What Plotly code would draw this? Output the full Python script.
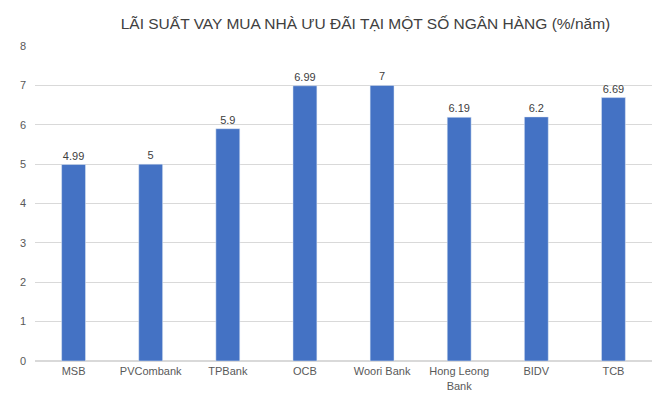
import plotly.graph_objects as go

banks = ["MSB", "PVCombank", "TPBank", "OCB", "Woori Bank", "Hong Leong<br>Bank", "BIDV", "TCB"]
rates = [4.99, 5, 5.9, 6.99, 7, 6.19, 6.2, 6.69]
labels = ["4.99", "5", "5.9", "6.99", "7", "6.19", "6.2", "6.69"]

fig = go.Figure(go.Bar(
    x=banks, y=rates, text=labels, textposition="outside",
    marker_color="#4472C4", textfont=dict(size=11, color="#404040"),
    cliponaxis=False,
))

fig.update_layout(
    width=662, height=408,
    margin=dict(l=24, r=18, t=38, b=55),
    paper_bgcolor="white", plot_bgcolor="white",
    font=dict(family="Liberation Sans, Arial", size=11, color="#595959"),
    title=dict(text="LÃI SUẤT VAY MUA NHÀ ƯU ĐÃI TẠI MỘT SỐ NGÂN HÀNG (%/năm)",
               x=0.54, xanchor="center", y=0.975, font=dict(size=15.5, color="#404040")),
    bargap=0.69,
    showlegend=False,
    yaxis=dict(range=[0, 8], dtick=1, showgrid=True, gridcolor="#D9D9D9",
               zeroline=True, zerolinecolor="#D9D9D9", ticks="", ticklabelstandoff=8),
    xaxis=dict(showline=True, linecolor="#D9D9D9", tickfont=dict(size=11)),
)

fig.write_html("out.html")
